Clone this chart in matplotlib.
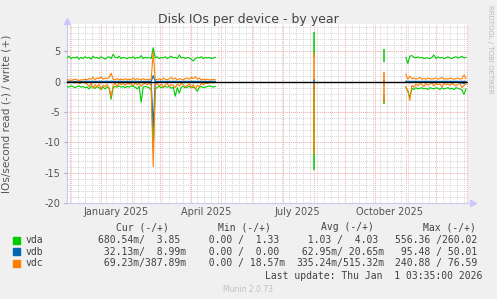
import numpy as np
import pandas as pd
import matplotlib
matplotlib.use("agg")
import matplotlib.pyplot as plt
import matplotlib.dates as mdates
from matplotlib.ticker import MultipleLocator, NullFormatter

plt.rcParams["axes.unicode_minus"] = False

W, H = 497, 299

# first block of data, every 2 days from 2024-11-28
dates1 = pd.date_range("2024-11-28", periods=75, freq="2D")
vda_write1 = [3.9, 4.2, 3.8, 4.0, 3.9, 4.1, 3.7, 4.0, 3.8, 4.1,
              3.9, 4.0, 3.7, 4.2, 3.9, 4.0, 3.8, 4.1, 3.9, 3.7,
              4.0, 4.1, 3.8, 4.5, 4.0, 3.9, 4.2, 3.8, 4.0, 3.9,
              3.8, 4.0, 3.9, 4.1, 3.8, 4.0, 3.9, 4.3, 3.8, 4.0,
              3.9, 4.0, 3.8, 5.6, 3.9, 4.1, 3.8, 4.0, 3.9, 4.1,
              3.8, 4.0, 4.2, 3.9, 4.0, 3.8, 4.4, 3.9, 4.0, 3.8,
              4.0, 3.9, 3.7, 3.4, 3.8, 4.0, 3.9, 4.1, 3.8, 4.0,
              3.9, 4.0, 3.8, 3.9, 4.0]
vda_read1 = [-0.8, -0.9, -0.7, -0.8, -1.0, -0.8, -0.7, -0.9, -0.8, -1.0,
             -0.9, -1.2, -0.8, -0.9, -1.1, -0.8, -1.0, -1.3, -0.9, -1.2,
             -0.9, -1.1, -2.9, -1.0, -0.8, -0.9, -0.7, -0.9, -0.8, -1.0,
             -0.8, -0.9, -0.7, -0.8, -0.9, -1.2, -0.8, -3.4, -0.9, -0.8,
             -0.9, -1.0, -1.4, -11.0, -1.3, -0.9, -0.8, -1.0, -0.9, -0.8,
             -0.9, -0.8, -1.1, -0.9, -2.4, -1.0, -1.9, -0.9, -0.8, -1.0,
             -0.9, -0.8, -1.0, -0.9, -1.1, -1.6, -0.9, -0.8, -1.0, -0.9,
             -0.8, -0.7, -0.8, -0.9, -0.8]
vdb_write1 = [0.05, 0.04, 0.06, 0.05, 0.03, 0.05, 0.04, 0.06, 0.05, 0.04,
              0.05, 0.06, 0.04, 0.05, 0.05, 0.04, 0.06, 0.05, 0.04, 0.05,
              0.06, 0.05, 0.08, 0.05, 0.04, 0.05, 0.06, 0.04, 0.05, 0.05,
              0.04, 0.06, 0.05, 0.04, 0.05, 0.06, 0.04, 0.05, 0.05, 0.04,
              0.05, 0.06, 0.05, 1.0, 0.05, 0.04, 0.06, 0.05, 0.04, 0.05,
              0.06, 0.04, 0.05, 0.05, 0.06, 0.04, 0.05, 0.05, 0.04, 0.06,
              0.05, 0.04, 0.05, 0.06, 0.05, 0.04, 0.05, 0.06, 0.04, 0.05,
              0.05, 0.04, 0.06, 0.05, 0.04]
vdb_read1 = [-0.04, -0.05, -0.03, -0.04, -0.05, -0.04, -0.03, -0.05, -0.04, -0.04,
             -0.05, -0.06, -0.04, -0.05, -0.04, -0.05, -0.06, -0.04, -0.05, -0.04,
             -0.05, -0.06, -0.1, -0.05, -0.04, -0.05, -0.04, -0.05, -0.04, -0.05,
             -0.04, -0.05, -0.04, -0.06, -0.04, -0.05, -0.04, -0.06, -0.05, -0.04,
             -0.05, -0.04, -0.06, -7.5, -0.05, -0.04, -0.05, -0.04, -0.05, -0.04,
             -0.05, -0.06, -0.04, -0.05, -0.06, -0.04, -0.05, -0.04, -0.05, -0.06,
             -0.05, -0.04, -0.06, -0.05, -0.06, -0.04, -0.05, -0.04, -0.05, -0.04,
             -0.04, -0.05, -0.04, -0.05, -0.04]
vdc_write1 = [0.3, 0.3, 0.2, 0.3, 0.4, 0.3, 0.2, 0.3, 0.3, 0.4,
              0.3, 0.5, 0.4, 0.7, 0.3, 0.6, 0.5, 0.8, 0.4, 0.6,
              0.5, 0.7, 1.4, 0.4, 0.3, 0.5, 0.3, 0.4, 0.3, 0.5,
              0.3, 0.4, 0.3, 0.6, 0.3, 0.5, 0.4, 0.3, 0.5, 0.3,
              0.4, 0.3, 0.5, 4.8, 0.4, 0.3, 0.5, 0.3, 0.6, 0.4,
              0.3, 0.5, 0.7, 0.4, 0.6, 0.3, 0.5, 0.4, 0.3, 0.5,
              0.6, 0.4, 0.7, 0.5, 0.8, 0.4, 0.6, 0.3, 0.4, 0.3,
              0.4, 0.3, 0.3, 0.4, 0.3]
vdc_read1 = [-0.1, -0.2, -0.1, -0.1, -0.2, -0.1, -0.3, -0.2, -0.1, -0.2,
             -0.4, -0.8, -0.3, -1.1, -0.5, -0.9, -0.4, -1.2, -0.6, -0.8,
             -0.5, -1.0, -2.5, -0.6, -0.3, -0.8, -0.2, -0.5, -0.3, -0.6,
             -0.2, -0.4, -0.3, -0.7, -0.2, -0.5, -0.3, -0.8, -0.4, -0.3,
             -0.5, -0.3, -0.6, -14.0, -0.5, -0.3, -0.7, -0.4, -0.9, -0.5,
             -0.3, -0.8, -0.5, -0.6, -1.0, -0.4, -0.7, -0.3, -0.5, -0.9,
             -0.6, -0.4, -1.0, -0.5, -1.2, -0.6, -0.8, -0.3, -0.5, -0.2,
             -0.3, -0.2, -0.1, -0.2, -0.1]

# last block, every 2 days from 2025-11-01
dates2 = pd.date_range("2025-11-01", periods=31, freq="2D")
vda_write2 = [4.0, 3.0, 4.2, 4.3, 4.0, 3.9, 4.1, 3.9, 4.0, 3.8, 3.9, 3.9, 3.8, 4.0, 4.4, 3.8,
              4.1, 3.9, 4.0, 3.8, 3.9, 4.1, 3.9, 3.8, 4.0, 4.1, 3.9, 4.0, 4.2, 3.9, 4.0]
vda_read2 = [-1.0, -1.5, -2.6, -1.1, -1.3, -1.0, -1.2, -1.1, -1.0, -1.2, -1.1, -1.3, -1.0, -1.1, -1.2, -1.0,
             -1.1, -1.3, -1.0, -1.2, -1.1, -1.0, -1.2, -1.1, -1.3, -1.0, -1.1, -1.2, -1.4, -2.1, -1.2]
vdb_write2 = [0.05, 0.06, 0.04, 0.05, 0.05, 0.04, 0.06, 0.05, 0.04, 0.05, 0.06, 0.05, 0.04, 0.05, 0.05, 0.06,
              0.04, 0.05, 0.05, 0.04, 0.06, 0.05, 0.04, 0.05, 0.06, 0.05, 0.04, 0.05, 0.06, 0.05, 0.04]
vdb_read2 = [-0.05, -0.1, -0.2, -0.05, -0.04, -0.05, -0.06, -0.04, -0.05, -0.05, -0.04, -0.06, -0.05, -0.04, -0.05, -0.06,
             -0.05, -0.04, -0.05, -0.06, -0.04, -0.05, -0.05, -0.04, -0.06, -0.05, -0.1, -0.15, -0.2, -0.3, -0.1]
vdc_write2 = [1.2, 0.4, 0.9, 0.5, 0.6, 0.4, 0.5, 0.7, 0.4, 0.5, 0.4, 0.6, 0.5, 0.4, 0.5, 0.6,
              0.4, 0.5, 0.7, 0.4, 0.5, 0.4, 0.6, 0.5, 0.4, 0.5, 0.6, 0.4, 0.5, 1.1, 0.5]
vdc_read2 = [-0.8, -1.5, -3.1, -0.6, -0.9, -0.4, -0.7, -0.3, -0.5, -0.8, -0.3, -0.6, -0.4, -0.2, -0.7, -0.3,
             -0.5, -0.4, -0.8, -0.3, -0.5, -0.4, -0.6, -0.3, -0.5, -0.7, -0.4, -0.3, -1.0, -0.6, -0.4]

# isolated samples: (write low, write high, read high, read low)
spike_dates = pd.to_datetime(["2025-08-01", "2025-10-10"])
spike_vda = [(4.0, 8.2, -0.9, -14.6), (3.2, 5.3, -2.2, -3.7)]
spike_vdb = [(0.0, 0.5, 0.0, -1.3), (0.0, 0.3, 0.0, -0.4)]
spike_vdc = [(0.3, 4.8, -0.2, -12.0), (0.0, 1.6, -0.2, -3.5)]

names = ["vda", "vdb", "vdc"]
colors = ["#00CC00", "#0066B3", "#FF8000"]
cur = ["680.54m/  3.85 ", " 32.13m/  8.99m", " 69.23m/387.89m"]
mins = ["  0.00 /  1.33 ", "  0.00 /  0.00 ", "  0.00 / 18.57m"]
avgs = ["  1.03 /  4.03 ", " 62.95m/ 20.65m", "335.24m/515.32m"]
maxs = ["556.36 /260.02 ", " 95.48 / 50.01 ", "240.88 / 76.59 "]
month_labels = ["January 2025", "April 2025", "July 2025", "October 2025"]
month_label_dates = pd.to_datetime(["2025-01-16", "2025-04-16", "2025-07-16", "2025-10-16"])

fig = plt.figure(figsize=(W / 100, H / 100), dpi=100, facecolor="#F0F0F0")
ax = fig.add_axes([67 / W, 96 / H, 401 / W, 179 / H], facecolor="white")

blocks = [
    (dates1, [(vda_write1, vda_read1), (vdb_write1, vdb_read1), (vdc_write1, vdc_read1)]),
    (dates2, [(vda_write2, vda_read2), (vdb_write2, vdb_read2), (vdc_write2, vdc_read2)]),
]
for d, series in blocks:
    for (w, r), c in zip(series, colors):
        ax.plot(d, w, color=c, lw=0.8, zorder=3)
        ax.plot(d, r, color=c, lw=0.8, zorder=3)

for sp, c in zip([spike_vda, spike_vdb, spike_vdc], colors):
    wl = [s[0] for s in sp]
    wh = [s[1] for s in sp]
    rh = [s[2] for s in sp]
    rl = [s[3] for s in sp]
    ax.vlines(spike_dates, wl, wh, color=c, lw=1.1, zorder=3)
    ax.vlines(spike_dates, rl, rh, color=c, lw=1.1, zorder=3)

ax.axhline(0, color="black", lw=1.0, zorder=5)

ax.set_xlim(pd.Timestamp("2024-11-28"), pd.Timestamp("2026-01-02"))
ax.set_ylim(-20, 9.5)

ax.xaxis.set_major_locator(mdates.MonthLocator())
ax.xaxis.set_minor_locator(mdates.WeekdayLocator(byweekday=mdates.MO))
ax.xaxis.set_major_formatter(NullFormatter())
ax.yaxis.set_major_locator(MultipleLocator(5))
ax.yaxis.set_minor_locator(MultipleLocator(1))
ax.set_axisbelow(True)
ax.grid(which="minor", color="#D4D4D4", ls=(0, (1, 1)), lw=0.7)
ax.grid(which="major", color="#F0A8A8", ls=(0, (1, 1)), lw=0.7)

ax.tick_params(axis="x", which="both", length=0)
ax.tick_params(axis="y", which="major", length=2, color="#AAAAAA", labelsize=7, labelcolor="#555555", pad=3)
ax.tick_params(axis="y", which="minor", length=0)

for d, t in zip(month_label_dates, month_labels):
    ax.text(d, -0.05, t, transform=ax.get_xaxis_transform(), ha="center", va="center",
            fontsize=7, color="#555555")

for s in ["top", "right"]:
    ax.spines[s].set_visible(False)
for s in ["left", "bottom"]:
    ax.spines[s].set_color("#C8C8F0")
    ax.spines[s].set_linewidth(0.8)
ax.plot([0], [1.015], marker="^", ms=4, color="#C8C8FF", transform=ax.transAxes, clip_on=False)
ax.plot([1.012], [0], marker=">", ms=4, color="#C8C8FF", transform=ax.transAxes, clip_on=False)

ax.set_ylabel("IOs/second read (-) / write (+)", fontsize=7.6, color="#555555", labelpad=4)
ax.yaxis.set_label_coords(-55 / 401, 0.5)

def px(x, y):
    return x / W, 1 - y / H

fig.text(*px(248, 19), "Disk IOs per device - by year", ha="center", va="center", fontsize=9, color="#444444")
fig.text(*px(490, 5), "RRDTOOL / TOBI OETIKER", rotation=270, ha="center", va="top", fontsize=5, color="#BBBBBB")

mono = dict(family="DejaVu Sans Mono", fontsize=7, color="#404040", va="center")
for x, t in zip([116, 218, 321, 423], ["Cur (-/+)", "Min (-/+)", "Avg (-/+)", "Max (-/+)"]):
    fig.text(*px(x, 227), t, ha="left", **mono)
for i, n in enumerate(names):
    y = 240 + i * 11.7
    fig.patches.append(plt.Rectangle(px(13, y + 3.5), 7 / W, 7 / H, transform=fig.transFigure,
                                     color=colors[i], figure=fig))
    fig.text(*px(26, y), n, ha="left", **mono)
    fig.text(*px(98, y), cur[i], ha="left", **mono)
    fig.text(*px(197, y), mins[i], ha="left", **mono)
    fig.text(*px(296, y), avgs[i], ha="left", **mono)
    fig.text(*px(395, y), maxs[i], ha="left", **mono)
fig.text(*px(482, 276), "Last update: Thu Jan  1 03:35:00 2026", ha="right", **mono)
fig.text(*px(248, 289), "Munin 2.0.73", ha="center", va="center", fontsize=5.5, color="#C0C0C0")

fig.savefig("out.png", dpi=100, facecolor=fig.get_facecolor())
plt.close(fig)
